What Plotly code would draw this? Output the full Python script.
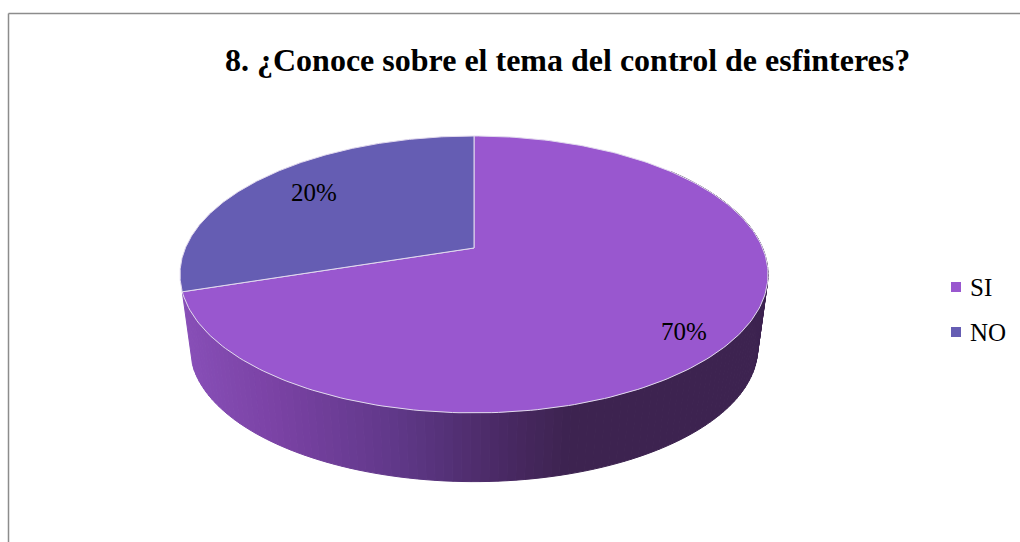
import numpy as np
import plotly.graph_objects as go

# ---- data ----
CATEGORIES = ["SI", "NO"]
VALUES = [70, 30]              # slice sizes as drawn
LABELS = ["70%", "20%"]        # labels as printed in the chart
TITLE = "8. ¿Conoce sobre el tema del control de esfinteres?"

# ---- style ----
COLORS = ["#9957CF", "#655DB3"]
RIM = "#E2DAEE"
FONT = "Liberation Serif"
SIDE_X = [185, 280, 400, 500, 570, 770]
SIDE_R = [0x88, 0x7A, 0x5F, 0x4A, 0x3D, 0x3E]
SIDE_G = [0x4F, 0x42, 0x38, 0x2A, 0x23, 0x24]
SIDE_B = [0xB8, 0xA4, 0x88, 0x65, 0x50, 0x50]

# ---- perspective geometry of the tilted disc (pixels) ----
CX, APEX_Y = 474.0, 248.0
A, B, K = 288.6, 133.4, 0.191
DEPTH_SCALE, BOTTOM_APEX_Y = 0.965, 322.5


def project(t_deg, radius=1.0, scale=1.0, apex_y=APEX_Y):
    t = np.radians(t_deg)
    u, v = radius * np.cos(t), radius * np.sin(t)
    w = 1 + K * u
    return CX + scale * A * v / w, apex_y - scale * B * u / w


fig = go.Figure()

# slice angles from the values, clockwise from the top
total = sum(VALUES)
edges = np.cumsum([0] + VALUES) / total * 360.0

# side wall of the first slice (only the front is visible)
side_t = np.arange(50.0, edges[1] + 0.01, 1.5)
side_t[-1] = edges[1]
for t0, t1 in zip(side_t[:-1], side_t[1:]):
    xa, ya = project(np.array([t0, t1]))
    xb, yb = project(np.array([t1, t0]), scale=DEPTH_SCALE, apex_y=BOTTOM_APEX_Y)
    xm = (xa.mean() + xb.mean()) / 2
    col = "rgb(%d,%d,%d)" % tuple(np.interp(xm, SIDE_X, c) for c in (SIDE_R, SIDE_G, SIDE_B))
    fig.add_trace(go.Scatter(
        x=np.r_[xa, xb, xa[0]], y=np.r_[ya, yb, ya[0]], mode="lines", fill="toself",
        fillcolor=col, line=dict(color=col, width=1), hoverinfo="skip", showlegend=False))

# top faces
for i, name in enumerate(CATEGORIES):
    ts = np.linspace(edges[i], edges[i + 1], 240)
    x, y = project(ts)
    fig.add_trace(go.Scatter(
        x=np.r_[CX, x, CX], y=np.r_[APEX_Y, y, APEX_Y], mode="lines", fill="toself",
        fillcolor=COLORS[i], line=dict(color=RIM, width=1), name=name,
        hoverinfo="name", showlegend=False))

# slice labels, placed from each slice's mid-angle
LABEL_SHIFT = [(10, -16), (7, -1)]
annotations = []
for i, lab in enumerate(LABELS):
    lx, ly = project((edges[i] + edges[i + 1]) / 2, radius=0.78)
    annotations.append(dict(
        x=float(lx), y=float(ly), xref="x", yref="y", text=lab, showarrow=False,
        xshift=LABEL_SHIFT[i][0], yshift=LABEL_SHIFT[i][1],
        font=dict(family=FONT, size=25, color="#000000")))

# legend keys and names
LEG_X, LEG_Y = 956, [287, 332]
fig.add_trace(go.Scatter(
    x=[LEG_X] * len(CATEGORIES), y=LEG_Y, mode="markers", hoverinfo="skip", showlegend=False,
    marker=dict(symbol="square", size=10, color=COLORS, line=dict(width=0))))
for name, ly in zip(CATEGORIES, LEG_Y):
    annotations.append(dict(
        x=968, y=ly, xref="x", yref="y", text=name, showarrow=False, xanchor="left",
        font=dict(family=FONT, size=25, color="#000000")))

annotations.append(dict(
    x=567.5, y=60, xref="x", yref="y", text="<b>%s</b>" % TITLE, showarrow=False,
    font=dict(family=FONT, size=32, color="#000000")))

frame = dict(color="#8C8C8C", width=1.5)
fig.update_layout(
    width=1020, height=542, margin=dict(l=0, r=0, t=0, b=0),
    paper_bgcolor="#FFFFFF", plot_bgcolor="#FFFFFF", showlegend=False,
    xaxis=dict(range=[0, 1020], visible=False, fixedrange=True),
    yaxis=dict(range=[542, 0], visible=False, fixedrange=True),
    annotations=annotations,
    shapes=[
        dict(type="line", xref="x", yref="y", x0=8.5, y0=13.5, x1=1020, y1=13.5, line=frame),
        dict(type="line", xref="x", yref="y", x0=8.5, y0=13.5, x1=8.5, y1=542, line=frame),
    ],
)
fig.write_html("out.html", config=dict(displayModeBar=False),
               post_script="document.body.style.margin='0';document.body.style.overflow='hidden';")
